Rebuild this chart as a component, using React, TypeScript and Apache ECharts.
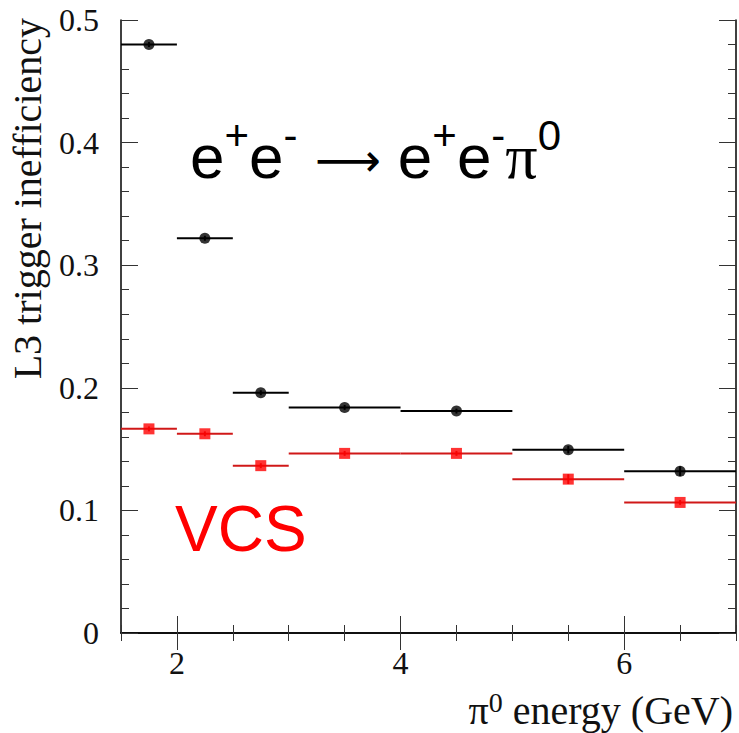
import React, { useEffect, useRef } from "react";
import * as echarts from "echarts";

const binLow = [1.5, 2, 2.5, 3, 4, 5, 6];
const binHigh = [2, 2.5, 3, 4, 5, 6, 7];
const binCenter = [1.75, 2.25, 2.75, 3.5, 4.5, 5.5, 6.5];
const eeValues = [0.48, 0.322, 0.196, 0.184, 0.181, 0.1495, 0.132];
const eeErrors = [0.002, 0.002, 0.002, 0.002, 0.002, 0.003, 0.004];
const vcsValues = [0.1665, 0.1625, 0.1365, 0.1465, 0.1465, 0.1255, 0.1065];
const vcsErrors = [0.002, 0.002, 0.002, 0.002, 0.002, 0.004, 0.002];
const xMajorTicks = [2, 4, 6];

const SERIF = "'Liberation Serif', 'Times New Roman', serif";
const SANS = "'Liberation Sans', Arial, sans-serif";

function errorSeries(name: string, values: number[], errors: number[], color: string) {
  const data = values.map((v, i) => [binLow[i], binHigh[i], binCenter[i], v, errors[i]]);
  return {
    name,
    type: "custom",
    xAxisIndex: 0,
    yAxisIndex: 0,
    data,
    z: 3,
    renderItem: (params: any, api: any) => {
      const lo = api.value(0);
      const hi = api.value(1);
      const xc = api.value(2);
      const y = api.value(3);
      const e = api.value(4);
      const p1 = api.coord([lo, y]);
      const p2 = api.coord([hi, y]);
      const p3 = api.coord([xc, y - e]);
      const p4 = api.coord([xc, y + e]);
      return {
        type: "group",
        children: [
          { type: "line", shape: { x1: p1[0], y1: p1[1], x2: p2[0], y2: p2[1] }, style: { stroke: color, lineWidth: 2 } },
          { type: "line", shape: { x1: p3[0], y1: p3[1], x2: p4[0], y2: p4[1] }, style: { stroke: color, lineWidth: 2 } },
        ],
      };
    },
  };
}

export default function App() {
  const ref = useRef<HTMLDivElement>(null);
  useEffect(() => {
    if (!ref.current) return;
    const chart = echarts.init(ref.current, undefined, { renderer: "svg" });
    const gridRect = { left: 121, top: 20, right: 3, bottom: 100 };
    const tickStyle = { color: "#333", width: 1 };
    const option: any = {
      animation: false,
      backgroundColor: "#ffffff",
      grid: [
        { ...gridRect, containLabel: false },
        { ...gridRect, containLabel: false },
      ],
      xAxis: [
        {
          type: "value", gridIndex: 0, position: "bottom", min: 1.5, max: 7,
          axisLine: { show: true, lineStyle: { color: "#000", width: 1.5 } },
          axisTick: { show: true, inside: true, length: 17, customValues: xMajorTicks, lineStyle: tickStyle },
          axisLabel: { show: true, customValues: xMajorTicks, margin: 14, fontFamily: SERIF, fontSize: 32, color: "#111" },
          splitLine: { show: false },
        },
        {
          type: "value", gridIndex: 0, position: "top", min: 1.5, max: 7,
          axisLine: { show: true, lineStyle: { color: "#000", width: 1.5 } },
          axisTick: { show: true, inside: true, length: 17, customValues: xMajorTicks, lineStyle: tickStyle },
          axisLabel: { show: false },
          splitLine: { show: false },
        },
        {
          type: "value", gridIndex: 1, position: "bottom", min: 1.5, max: 7, interval: 0.5,
          axisLine: { show: false },
          axisTick: { show: true, inside: true, length: 8, lineStyle: tickStyle },
          axisLabel: { show: false },
          splitLine: { show: false },
        },
        {
          type: "value", gridIndex: 1, position: "top", min: 1.5, max: 7, interval: 0.5,
          axisLine: { show: false },
          axisTick: { show: true, inside: true, length: 8, lineStyle: tickStyle },
          axisLabel: { show: false },
          splitLine: { show: false },
        },
      ],
      yAxis: [
        {
          type: "value", gridIndex: 0, position: "left", min: 0, max: 0.5, interval: 0.1,
          axisLine: { show: true, lineStyle: { color: "#000", width: 1.5 } },
          axisTick: { show: true, inside: true, length: 17, lineStyle: tickStyle },
          minorTick: { show: true, splitNumber: 5, length: 8, lineStyle: tickStyle },
          axisLabel: { show: true, margin: 22, fontFamily: SERIF, fontSize: 32, color: "#111" },
          splitLine: { show: false },
        },
        {
          type: "value", gridIndex: 0, position: "right", min: 0, max: 0.5, interval: 0.1,
          axisLine: { show: true, lineStyle: { color: "#000", width: 1.5 } },
          axisTick: { show: true, inside: true, length: 17, lineStyle: tickStyle },
          minorTick: { show: true, splitNumber: 5, length: 8, lineStyle: tickStyle },
          axisLabel: { show: false },
          splitLine: { show: false },
        },
        { type: "value", gridIndex: 1, min: 0, max: 0.5, show: false },
        { type: "value", gridIndex: 1, min: 0, max: 0.5, show: false, position: "right" },
      ],
      series: [
        errorSeries("ee-lines", eeValues, eeErrors, "#000000"),
        errorSeries("vcs-lines", vcsValues, vcsErrors, "#d01818"),
        {
          name: "e+e- → e+e-π0",
          type: "scatter",
          xAxisIndex: 0,
          yAxisIndex: 0,
          symbol: "circle",
          symbolSize: 11,
          itemStyle: { color: "#000000" },
          data: eeValues.map((v, i) => [binCenter[i], v]),
          z: 4,
        },
        {
          name: "VCS",
          type: "scatter",
          xAxisIndex: 0,
          yAxisIndex: 0,
          symbol: "rect",
          symbolSize: 11,
          itemStyle: { color: "#ff0000" },
          data: vcsValues.map((v, i) => [binCenter[i], v]),
          z: 4,
        },
      ],
      graphic: [
        {
          type: "text",
          x: 27,
          y: 18,
          rotation: Math.PI / 2,
          style: {
            text: "L3 trigger inefficiency",
            fontFamily: SERIF,
            fontSize: 40,
            fill: "#111",
            align: "right",
            verticalAlign: "middle",
          },
        },
        {
          type: "text",
          x: 733,
          y: 710,
          style: {
            text: "{p|π}{s|0}{t| energy (GeV)}",
            align: "right",
            verticalAlign: "middle",
            fill: "#111",
            rich: {
              p: { fontFamily: SERIF, fontSize: 40, lineHeight: 44, fill: "#111" },
              s: { fontFamily: SERIF, fontSize: 28, lineHeight: 8, verticalAlign: "top", fill: "#111" },
              t: { fontFamily: SERIF, fontSize: 40, lineHeight: 44, fill: "#111" },
            },
          },
        },
        {
          type: "text",
          x: 190,
          y: 156,
          style: {
            text: "{b|e}{s|+}{b|e}{s|-}{b| }{a|⟶}{b| e}{s|+}{b|e}{s|-}{g|π}{s|0}",
            align: "left",
            verticalAlign: "middle",
            fill: "#000",
            rich: {
              b: { fontFamily: SANS, fontSize: 62, lineHeight: 84, fill: "#000" },
              a: { fontFamily: "'DejaVu Sans', sans-serif", fontSize: 46, lineHeight: 84, fill: "#000", padding: [8, 0, 0, 0] },
              g: { fontFamily: SERIF, fontSize: 64, lineHeight: 84, fill: "#000" },
              s: { fontFamily: SANS, fontSize: 42, lineHeight: 18, verticalAlign: "top", fill: "#000" },
            },
          },
        },
        {
          type: "text",
          x: 175,
          y: 529,
          style: {
            text: "VCS",
            fontFamily: SANS,
            fontSize: 64,
            fill: "#ff0000",
            align: "left",
            verticalAlign: "middle",
          },
        },
      ],
    };
    chart.setOption(option);
    return () => chart.dispose();
  }, []);
  return (
    <div
      ref={ref}
      style={{ position: "fixed", left: 0, top: 0, width: 739, height: 733, background: "#fff" }}
    />
  );
}
